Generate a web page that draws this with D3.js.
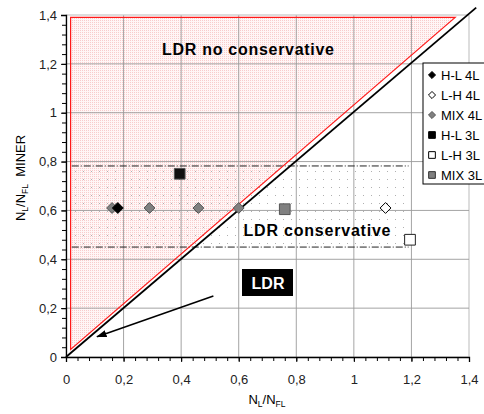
<!DOCTYPE html>
<html>
<head>
<meta charset="utf-8">
<script src="https://cdn.jsdelivr.net/npm/d3@7/dist/d3.min.js"></script>
<style>
  body { margin: 0; background: #fff; }
  svg { font-family: "Liberation Sans", Arial, sans-serif; }
  .axis text { font-size: 13px; fill: #222; }
  .axis path, .axis line { stroke: #000; }
</style>
</head>
<body>
<svg width="484" height="414"></svg>
<script>
// series data (x = NL/NFL, y = NL/NFL MINER)
var hl4 = [[0.18, 0.61]];
var lh4 = [[1.11, 0.61]];
var mix4 = [[0.16, 0.61], [0.29, 0.61], [0.46, 0.61], [0.60, 0.61]];
var hl3 = [[0.395, 0.75]];
var lh3 = [[1.195, 0.48]];
var mix3 = [[0.76, 0.605]];

var majorTicks = [0, 0.2, 0.4, 0.6, 0.8, 1, 1.2, 1.4];
var legendNames = ["H-L 4L", "L-H 4L", "MIX 4L", "H-L 3L", "L-H 3L", "MIX 3L"];

// regions
var redTriangle = [[0.016, 0.031], [0.016, 1.39], [1.352, 1.39]];
var bisector = [[0, 0], [1.425, 1.43]];
var bandLimits = [0.45, 0.782];
var bandX = [0.02, 1.19];
var arrowLine = [[0.512, 0.25], [0.108, 0.083]];

var svg = d3.select("svg");
var padding = { top: 15, left: 66, right: 15, bottom: 57 };
var width = +svg.attr("width");
var height = +svg.attr("height");

var x = d3.scaleLinear().domain([0, 1.4]).range([padding.left, width - padding.right]);
var y = d3.scaleLinear().domain([0, 1.4]).range([height - padding.bottom, padding.top]);

var defs = svg.append("defs");
var pink = defs.append("pattern").attr("id", "pinkdots")
  .attr("patternUnits", "userSpaceOnUse").attr("width", 2).attr("height", 2);
pink.append("rect").attr("width", 2).attr("height", 2).attr("fill", "#fff6f6");
pink.append("rect").attr("width", 1).attr("height", 1).attr("fill", "#f8cccc");

var grey = defs.append("pattern").attr("id", "greydots")
  .attr("patternUnits", "userSpaceOnUse").attr("width", 8).attr("height", 8);
grey.append("rect").attr("x", 3).attr("y", 3).attr("width", 1).attr("height", 1).attr("fill", "#b0b0b0");

defs.append("marker").attr("id", "arrow")
  .attr("viewBox", "0 0 10 10").attr("refX", 9).attr("refY", 5)
  .attr("markerWidth", 7).attr("markerHeight", 7).attr("orient", "auto")
  .append("path").attr("d", "M0,1.5L10,5L0,8.5z").attr("fill", "#000");

// plot frame
svg.append("rect")
  .attr("x", x(0)).attr("y", y(1.4))
  .attr("width", x(1.4) - x(0)).attr("height", y(0) - y(1.4))
  .attr("fill", "none").attr("stroke", "#d0d0d0");

var line = d3.line().x(d => x(d[0])).y(d => y(d[1]));

// pink non-conservative area
svg.append("path").attr("d", line(redTriangle) + "Z")
  .attr("fill", "url(#pinkdots)");

// grid
svg.append("g").selectAll("line.vg").data(majorTicks.slice(1)).enter().append("line")
  .attr("x1", d => x(d)).attr("x2", d => x(d)).attr("y1", y(0)).attr("y2", y(1.4))
  .attr("stroke", d => d == 1.4 ? "#d0d0d0" : "#9a9a9a").attr("stroke-opacity", 0.9);
svg.append("g").selectAll("line.hg").data(majorTicks.slice(1)).enter().append("line")
  .attr("y1", d => y(d)).attr("y2", d => y(d)).attr("x1", x(0)).attr("x2", x(1.4))
  .attr("stroke", d => d == 1.4 ? "#d0d0d0" : "#9a9a9a").attr("stroke-opacity", 0.9);

// grey dotted band
svg.append("rect")
  .attr("x", x(bandX[0])).attr("width", x(bandX[1]) - x(bandX[0]))
  .attr("y", y(bandLimits[1])).attr("height", y(bandLimits[0]) - y(bandLimits[1]))
  .attr("fill", "url(#greydots)");
svg.append("g").selectAll("line").data(bandLimits).enter().append("line")
  .attr("x1", x(bandX[0])).attr("x2", x(bandX[1]))
  .attr("y1", d => y(d)).attr("y2", d => y(d))
  .attr("stroke", "#222").attr("stroke-width", 1)
  .attr("stroke-dasharray", "7,2,1,2");

// red outline and bisector
svg.append("path").attr("d", line(redTriangle) + "Z")
  .attr("fill", "none").attr("stroke", "#ff1a1a").attr("stroke-width", 1.2);
svg.append("path").attr("d", line(bisector))
  .attr("fill", "none").attr("stroke", "#000").attr("stroke-width", 1.8);

// axes
var fmt = d => String(d).replace(".", ",");
var minor = d3.range(0, 1.4001, 0.04);
svg.append("g").attr("class", "axis").attr("transform", "translate(0," + y(0) + ")")
  .call(d3.axisBottom(x).tickValues(minor).tickSize(4).tickFormat(""));
svg.append("g").attr("class", "axis").attr("transform", "translate(" + x(0) + ",0)")
  .call(d3.axisLeft(y).tickValues(minor).tickSize(4).tickFormat(""));
var gX = svg.append("g").attr("class", "axis").attr("transform", "translate(0," + y(0) + ")")
  .call(d3.axisBottom(x).tickValues(majorTicks).tickSize(5).tickPadding(13).tickFormat(fmt));
var gY = svg.append("g").attr("class", "axis").attr("transform", "translate(" + x(0) + ",0)")
  .call(d3.axisLeft(y).tickValues(majorTicks).tickSize(5).tickPadding(4).tickFormat(fmt));
gX.select(".domain").attr("stroke-width", 1.3);
gY.select(".domain").attr("stroke-width", 1.3);

// arrow
svg.append("path").attr("d", line(arrowLine))
  .attr("stroke", "#000").attr("stroke-width", 1.5).attr("marker-end", "url(#arrow)");

// markers
var diamond = d3.symbol().type(d3.symbolDiamond2).size(75);
var square = d3.symbol().type(d3.symbolSquare).size(115);
var series = [
  { data: mix4, shape: diamond, fill: "#808080", stroke: "#555" },
  { data: hl4, shape: diamond, fill: "#000", stroke: "#000" },
  { data: lh4, shape: diamond, fill: "#fff", stroke: "#000" },
  { data: hl3, shape: square, fill: "#111", stroke: "#555" },
  { data: lh3, shape: square, fill: "#fff", stroke: "#222" },
  { data: mix3, shape: square, fill: "#808080", stroke: "#555" }
];
series.forEach(function (s) {
  svg.append("g").selectAll("path").data(s.data).enter().append("path")
    .attr("d", s.shape)
    .attr("transform", d => "translate(" + x(d[0]) + "," + y(d[1]) + ")")
    .attr("fill", s.fill).attr("stroke", s.stroke).attr("stroke-width", 1);
});

// region labels
svg.append("text").attr("x", 248).attr("y", 55).attr("text-anchor", "middle")
  .attr("font-size", 16).attr("font-weight", "bold")
  .attr("textLength", 172).attr("lengthAdjust", "spacing").text("LDR no conservative");
svg.append("text").attr("x", 317).attr("y", 236).attr("text-anchor", "middle")
  .attr("font-size", 16).attr("font-weight", "bold")
  .attr("textLength", 147).attr("lengthAdjust", "spacing").text("LDR conservative");
svg.append("rect").attr("x", 242).attr("y", 269).attr("width", 51).attr("height", 27).attr("fill", "#000");
svg.append("text").attr("x", 268).attr("y", 289).attr("text-anchor", "middle")
  .attr("font-size", 16).attr("font-weight", "bold").attr("fill", "#fff").text("LDR");

// legend
var legend = svg.append("g").attr("transform", "translate(423,63)");
legend.append("rect").attr("width", 70).attr("height", 121)
  .attr("fill", "#fff").attr("stroke", "#000");
var legDiamond = d3.symbol().type(d3.symbolDiamond2).size(32);
var legSquare = d3.symbol().type(d3.symbolSquare).size(45);
var legStyle = [
  { shape: legDiamond, fill: "#000", stroke: "#000" },
  { shape: legDiamond, fill: "#fff", stroke: "#000" },
  { shape: legDiamond, fill: "#808080", stroke: "#555" },
  { shape: legSquare, fill: "#000", stroke: "#000" },
  { shape: legSquare, fill: "#fff", stroke: "#000" },
  { shape: legSquare, fill: "#808080", stroke: "#333" }
];
var items = legend.selectAll("g").data(legendNames).enter().append("g")
  .attr("transform", (d, i) => "translate(0," + (12 + i * 20) + ")");
items.append("path").attr("d", (d, i) => legStyle[i].shape())
  .attr("transform", "translate(9,0)")
  .attr("fill", (d, i) => legStyle[i].fill).attr("stroke", (d, i) => legStyle[i].stroke);
items.append("text").attr("x", 18).attr("y", 4.5).attr("font-size", 13).text(d => d);

// axis titles
var xt = svg.append("text").attr("x", 267).attr("y", 404).attr("text-anchor", "middle").attr("font-size", 13);
xt.append("tspan").text("N");
xt.append("tspan").attr("font-size", 8.5).attr("dy", 3).text("L");
xt.append("tspan").attr("dy", -3).text("/N");
xt.append("tspan").attr("font-size", 8.5).attr("dy", 3).text("FL");

var yt = svg.append("text").attr("transform", "translate(25,178) rotate(-90)")
  .attr("text-anchor", "middle").attr("font-size", 13);
yt.append("tspan").text("N");
yt.append("tspan").attr("font-size", 8.5).attr("dy", 3).text("L");
yt.append("tspan").attr("dy", -3).text("/N");
yt.append("tspan").attr("font-size", 8.5).attr("dy", 3).text("FL");
yt.append("tspan").attr("dy", -3).text("\u00a0\u00a0MINER");
</script>
</body>
</html>
